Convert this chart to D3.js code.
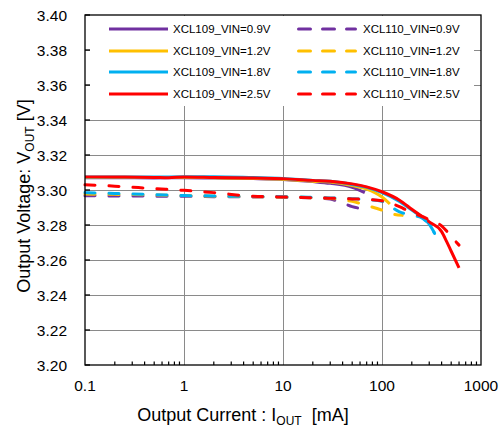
<!DOCTYPE html>
<html><head><meta charset="utf-8">
<script src="https://cdn.jsdelivr.net/npm/d3@7"></script>
<style>
html,body{margin:0;padding:0;background:#fff;}
svg{display:block;font-family:"Liberation Sans",Arial,sans-serif;}
</style></head>
<body>
<svg id="c" width="501" height="429"></svg>
<script>
// ---- data ----
const xTicks = [0.1, 1, 10, 100, 1000];
const xTickLabels = ["0.1", "1", "10", "100", "1000"];
const yTicks = [3.20, 3.22, 3.24, 3.26, 3.28, 3.30, 3.32, 3.34, 3.36, 3.38, 3.40];

const seriesNames = ["XCL109_VIN=0.9V","XCL109_VIN=1.2V","XCL109_VIN=1.8V","XCL109_VIN=2.5V",
                     "XCL110_VIN=0.9V","XCL110_VIN=1.2V","XCL110_VIN=1.8V","XCL110_VIN=2.5V"];
const seriesColors = ["#7030A0","#FFC000","#00B0F0","#FF0000","#7030A0","#FFC000","#00B0F0","#FF0000"];
const seriesDashed = [false,false,false,false,true,true,true,true];

// XCL109 (solid)
const i109_09 = [0.1,0.2,0.5,1,2,5,10,20,30,50,67];
const v109_09 = [3.3070,3.3070,3.3069,3.3070,3.3068,3.3065,3.3060,3.3048,3.3038,3.3015,3.2985];
const i109_12 = [0.1,0.2,0.5,1,2,5,10,20,30,50,70,100,120];
const v109_12 = [3.3072,3.3072,3.3071,3.3072,3.3070,3.3067,3.3062,3.3050,3.3045,3.3025,3.3005,3.2960,3.2920];
const i109_18 = [0.1,0.2,0.5,1,2,5,10,20,30,50,70,100,150,200,250,300,340];
const v109_18 = [3.3075,3.3075,3.3074,3.3076,3.3076,3.3071,3.3066,3.3055,3.3050,3.3032,3.3015,3.2985,3.2935,3.2885,3.2848,3.2805,3.2753];
const i109_25 = [0.1,0.2,0.5,0.7,1,2,5,10,20,30,50,70,100,150,200,300,400,450,500,600];
const v109_25 = [3.3075,3.3074,3.3072,3.3070,3.3075,3.3072,3.3068,3.3065,3.3055,3.3050,3.3035,3.3018,3.2990,3.2942,3.2890,3.2818,3.2762,3.2705,3.2650,3.2555];

// XCL110 (dashed)
const i110_09 = [0.1,0.2,0.5,1,2,5,10,20,30,40,50,60];
const v110_09 = [3.2967,3.2966,3.2965,3.2964,3.2962,3.2960,3.2958,3.2955,3.2948,3.2925,3.2905,3.2895];
const i110_12 = [0.1,0.2,0.5,1,2,5,10,20,30,50,70,100,130,160];
const v110_12 = [3.2977,3.2975,3.2972,3.2968,3.2965,3.2962,3.2960,3.2956,3.2952,3.2935,3.2912,3.2885,3.2862,3.2855];
const i110_18 = [0.1,0.2,0.5,1,2,5,10,20,30,50,70,100,150,200,250,300,340];
const v110_18 = [3.2985,3.2980,3.2974,3.2968,3.2966,3.2963,3.2962,3.2958,3.2955,3.2950,3.2945,3.2935,3.2875,3.2855,3.2842,3.2800,3.2752];
const i110_25 = [0.1,0.2,0.5,1,2,5,10,20,30,50,70,100,150,200,250,300,400,450,500,600];
const v110_25 = [3.3030,3.3022,3.3008,3.2998,3.2985,3.2964,3.2960,3.2956,3.2953,3.2949,3.2946,3.2938,3.2905,3.2870,3.2850,3.2830,3.2795,3.2765,3.2735,3.2685];

const seriesI = [i109_09,i109_12,i109_18,i109_25,i110_09,i110_12,i110_18,i110_25];
const seriesV = [v109_09,v109_12,v109_18,v109_25,v110_09,v110_12,v110_18,v110_25];

// ---- chart ----
const svg = d3.select("#c");
const L = 85, R = 481, T = 15, B = 365;
const x = d3.scaleLog().domain([0.1, 1000]).range([L, R]);
const y = d3.scaleLinear().domain([3.20, 3.40]).range([B, T]);

// grid
const grid = svg.append("g").attr("stroke", "#8a8a8a").attr("stroke-width", 1);
grid.selectAll("line.h").data(yTicks.slice(1, -1)).enter().append("line")
  .attr("x1", L).attr("x2", R).attr("y1", d => Math.round(y(d)) + 0.5).attr("y2", d => Math.round(y(d)) + 0.5);
grid.selectAll("line.v").data(xTicks.slice(1, -1)).enter().append("line")
  .attr("y1", T).attr("y2", B).attr("x1", d => Math.round(x(d)) + 0.5).attr("x2", d => Math.round(x(d)) + 0.5);

// data lines
const line = d3.line().x(d => x(d[0])).y(d => y(d[1])).curve(d3.curveMonotoneX);
const order = [0,1,2,3,4,5,6,7];
order.forEach(k => {
  const pts = seriesI[k].map((v, j) => [v, seriesV[k][j]]);
  const p = svg.append("path").datum(pts).attr("d", line)
    .attr("fill", "none").attr("stroke", seriesColors[k]).attr("stroke-width", 3)
    .attr("stroke-linejoin", "round");
  if (seriesDashed[k]) p.attr("stroke-dasharray", "10,14").attr("stroke-linecap", "round");
});

// legend background
svg.append("rect").attr("x", 90).attr("y", 16).attr("width", 384).attr("height", 90).attr("fill", "#fff");

// legend
const legRows = [29, 51, 72, 94];
seriesNames.forEach((n, k) => {
  const col = k < 4 ? 0 : 1;
  const row = k % 4;
  const x0 = col === 0 ? 109 : 297, x1 = col === 0 ? 168 : 357, tx = col === 0 ? 173 : 363;
  const ly = legRows[row];
  const l = svg.append("line").attr("x1", x0).attr("x2", x1).attr("y1", ly).attr("y2", ly)
    .attr("stroke", seriesColors[k]).attr("stroke-width", 3);
  if (seriesDashed[k]) l.attr("x1", x0 + 1.5).attr("x2", x1 - 1.5).attr("stroke-dasharray", "12,12").attr("stroke-linecap", "round");
  svg.append("text").attr("x", tx).attr("y", ly + 4).attr("font-size", 11.5).attr("fill", "#000").text(n);
});

// frame
svg.append("rect").attr("x", L).attr("y", T).attr("width", R - L).attr("height", B - T)
  .attr("fill", "none").attr("stroke", "#000").attr("stroke-width", 1.3);

// y ticks (inside)
svg.append("g").selectAll("line").data(yTicks).enter().append("line")
  .attr("x1", L).attr("x2", L + 5).attr("y1", d => y(d)).attr("y2", d => y(d))
  .attr("stroke", "#000").attr("stroke-width", 1.3);

// x minor ticks (inside)
const minor = [];
[0.1, 1, 10, 100].forEach(d => { for (let m = 2; m <= 9; m++) minor.push(d * m); });
svg.append("g").selectAll("line").data(minor).enter().append("line")
  .attr("x1", d => x(d)).attr("x2", d => x(d)).attr("y1", B).attr("y2", B - 3.5)
  .attr("stroke", "#000").attr("stroke-width", 1.2);

// y tick labels
svg.append("g").selectAll("text").data(yTicks).enter().append("text")
  .attr("x", 67).attr("y", d => y(d) + 5.5).attr("text-anchor", "end")
  .attr("font-size", 15.5).attr("fill", "#000").text(d => d3.format(".2f")(d));

// x tick labels
svg.append("g").selectAll("text").data(xTicks).enter().append("text")
  .attr("x", d => x(d)).attr("y", 391).attr("text-anchor", "middle")
  .attr("font-size", 15.5).attr("fill", "#000").text((d, i) => xTickLabels[i]);

// x title
const xt = svg.append("text").attr("x", 243).attr("y", 421).attr("text-anchor", "middle")
  .attr("font-size", 18).attr("fill", "#000");
xt.append("tspan").text("Output Current : I");
xt.append("tspan").attr("font-size", 12).attr("dy", 4).text("OUT");
xt.append("tspan").attr("dy", -4).text("\u00a0 [mA]");

// y title
const yt = svg.append("text").attr("transform", "translate(30,196) rotate(-90)")
  .attr("text-anchor", "middle").attr("font-size", 18).attr("fill", "#000");
yt.append("tspan").text("Output Voltage: V");
yt.append("tspan").attr("font-size", 12).attr("dy", 4).text("OUT");
yt.append("tspan").attr("dy", -4).text(" [V]");
</script>
</body></html>
